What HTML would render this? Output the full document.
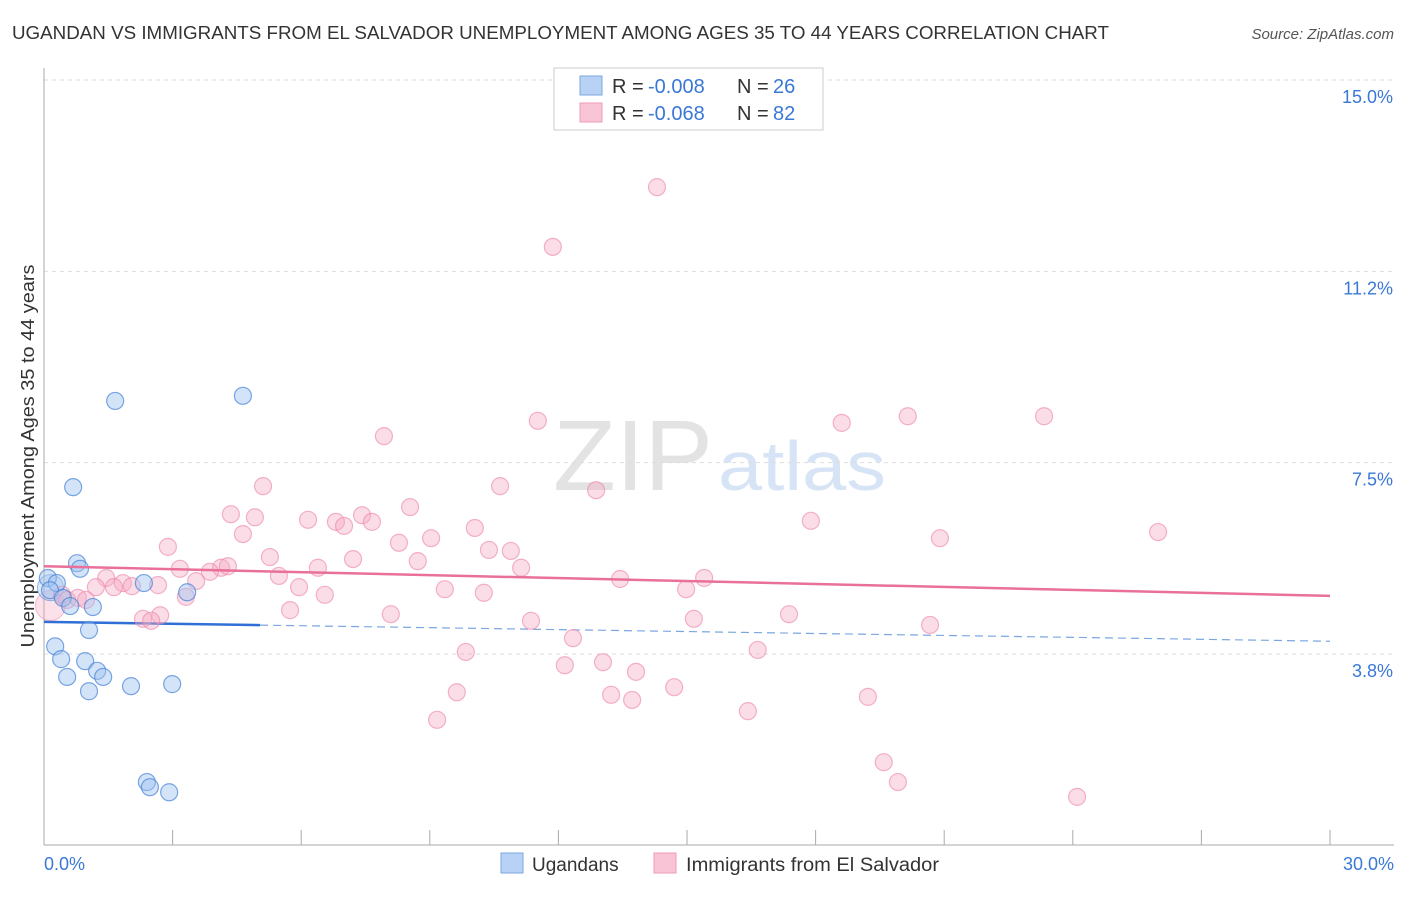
<!DOCTYPE html>
<html><head><meta charset="utf-8"><style>
body{margin:0;background:#fff;font-family:"Liberation Sans",sans-serif;}
svg text{font-family:"Liberation Sans",sans-serif;}
</style></head><body>
<svg id="chart" width="1406" height="892" xmlns="http://www.w3.org/2000/svg">
<text x="12" y="39" font-size="18" fill="#333" textLength="1097" lengthAdjust="spacingAndGlyphs">UGANDAN VS IMMIGRANTS FROM EL SALVADOR UNEMPLOYMENT AMONG AGES 35 TO 44 YEARS CORRELATION CHART</text>
<text x="1394" y="39" font-size="15" fill="#555" font-style="italic" text-anchor="end">Source: ZipAtlas.com</text>
<text x="633" y="490" font-size="100" fill="#e3e3e3" font-family="Liberation Serif" text-anchor="middle" textLength="160" lengthAdjust="spacingAndGlyphs">ZIP</text>
<text x="802" y="490" font-size="70" fill="#d6e4f5" text-anchor="middle" textLength="168" lengthAdjust="spacingAndGlyphs">atlas</text>
<text transform="translate(34,456) rotate(-90)" font-size="18" fill="#333" text-anchor="middle" textLength="383" lengthAdjust="spacingAndGlyphs">Unemployment Among Ages 35 to 44 years</text>
<g id="grid"></g><g id="axes"></g><g id="lines"></g><g id="pts"></g>
<g>
<rect x="554" y="68" width="269" height="62" fill="#fff" stroke="#ccc"/>
<rect x="580" y="76" width="22" height="19" fill="#b8d2f5" stroke="#7ba7e0"/>
<rect x="580" y="103" width="22" height="19" fill="#f9c5d6" stroke="#ef9ab8"/>
<text x="612" y="93" font-size="20" fill="#333">R =</text>
<text x="648" y="93" font-size="20" fill="#3a78d6">-0.008</text>
<text x="737" y="93" font-size="20" fill="#333">N =</text>
<text x="773" y="93" font-size="20" fill="#3a78d6">26</text>
<text x="612" y="120" font-size="20" fill="#333">R =</text>
<text x="648" y="120" font-size="20" fill="#3a78d6">-0.068</text>
<text x="737" y="120" font-size="20" fill="#333">N =</text>
<text x="773" y="120" font-size="20" fill="#3a78d6">82</text>
</g>
<g>
<rect x="501" y="853" width="22" height="20" fill="#b8d2f5" stroke="#7ba7e0"/>
<text x="532" y="871" font-size="19" fill="#333">Ugandans</text>
<rect x="654" y="853" width="22" height="20" fill="#f9c5d6" stroke="#ef9ab8"/>
<text x="686" y="871" font-size="19" fill="#333" textLength="253" lengthAdjust="spacingAndGlyphs">Immigrants from El Salvador</text>
</g>
</svg>
<script>
const blueX=[0.09,0.30,0.14,0.44,0.61,1.14,0.77,0.84,0.68,1.66,4.64,2.33,3.34,1.05,0.26,0.40,0.54,0.96,1.24,1.38,1.05,2.03,2.99,2.40,2.47,2.92];
const blueY=[5.24,5.14,5.00,4.85,4.69,4.67,5.53,5.42,7.02,8.71,8.81,5.14,4.96,4.22,3.90,3.65,3.30,3.61,3.42,3.30,3.02,3.12,3.16,1.24,1.14,1.04];
const pinkX=[14.30,11.87,7.93,11.52,18.61,20.15,23.33,5.11,10.64,12.88,4.36,4.92,8.54,6.16,6.81,7.00,7.42,7.65,10.05,17.89,25.99,4.64,9.03,20.90,2.89,8.28,10.38,10.89,5.27,7.21,8.72,3.17,4.13,4.29,6.39,11.13,1.45,1.84,2.05,2.66,3.55,3.87,5.48,13.44,15.40,1.21,1.63,5.95,14.98,9.35,6.55,10.26,0.42,0.54,0.79,0.98,3.31,5.74,8.09,2.31,2.71,2.50,11.36,15.16,17.38,20.67,12.34,16.65,9.84,12.15,13.04,13.81,14.70,9.63,13.23,13.72,19.22,16.42,9.17,19.59,19.92,24.10];
const pinkY=[12.90,11.73,8.02,8.32,8.28,8.41,8.41,7.04,7.04,6.96,6.49,6.43,6.63,6.38,6.34,6.26,6.47,6.34,6.22,6.36,6.14,6.10,6.02,6.02,5.85,5.93,5.79,5.77,5.65,5.61,5.57,5.42,5.44,5.47,5.44,5.44,5.24,5.14,5.08,5.10,5.18,5.36,5.28,5.22,5.24,5.06,5.06,5.06,5.02,5.02,4.91,4.95,4.91,4.81,4.85,4.81,4.87,4.61,4.53,4.44,4.51,4.40,4.40,4.44,4.53,4.32,4.06,3.83,3.79,3.53,3.59,3.40,3.10,3.00,2.95,2.85,2.91,2.63,2.46,1.63,1.24,0.95];
const blueTrend=[4.38,4.00];
const pinkTrend=[5.47,4.89];
const blueSolidEnd=5.04;
const yTicks=[3.75,7.5,11.25,15];
const yTickLabels=["3.8%","7.5%","11.2%","15.0%"];
const xTicks=[0,3,6,9,12,15,18,21,24,27,30];

const NS="http://www.w3.org/2000/svg";
const X=v=>44+v*(1330-44)/30;
const Y=v=>80+(15-v)*(654-80)/11.25;
function mk(tag,attrs,parent){const e=document.createElementNS(NS,tag);for(const k in attrs)e.setAttribute(k,attrs[k]);parent.appendChild(e);return e;}
const grid=document.getElementById('grid'),axes=document.getElementById('axes'),lines=document.getElementById('lines'),pts=document.getElementById('pts');
yTicks.forEach((t,i)=>{
  const g=mk('line',{x1:44,x2:1394,y1:Y(t),y2:Y(t),stroke:'#ddd','stroke-dasharray':'4,4'},grid);
  
  
  const tx=mk('text',{x:1393,y:Y(t)+23,'font-size':18,fill:'#3a78d6','text-anchor':'end'},axes);
  tx.textContent=yTickLabels[i];
  
  
});
const ya=mk('line',{x1:44,x2:44,y1:68,y2:845,stroke:'#aaa'},axes);


const xa=mk('line',{x1:44,x2:1394,y1:845,y2:845,stroke:'#aaa'},axes);


xTicks.forEach(t=>{
  const l=mk('line',{x1:X(t),x2:X(t),y1:830,y2:845,stroke:'#aaa'},axes);
  
  
});
const xl0=mk('text',{x:44,y:870,'font-size':18,fill:'#3a78d6'},axes);xl0.textContent=xTicks[0].toFixed(1)+'%';


const xl1=mk('text',{x:1394,y:870,'font-size':18,fill:'#3a78d6','text-anchor':'end'},axes);xl1.textContent=xTicks[xTicks.length-1].toFixed(1)+'%';



const bp=mk('circle',{cx:X(0.15),cy:Y(4.7),r:15,fill:'rgba(245,170,195,0.35)',stroke:'rgba(236,130,170,0.5)'},pts);


const bb=mk('circle',{cx:X(0.15),cy:Y(5.05),r:13,fill:'rgba(160,195,240,0.35)',stroke:'rgba(90,145,220,0.6)'},pts);



pinkX.forEach((x,i)=>{
  const c=mk('circle',{cx:X(x),cy:Y(pinkY[i]),r:8.5,fill:'rgba(245,170,195,0.4)',stroke:'rgba(236,130,170,0.6)','stroke-width':1.2},pts);
  
  
});
blueX.forEach((x,i)=>{
  const c=mk('circle',{cx:X(x),cy:Y(blueY[i]),r:8.5,fill:'rgba(160,195,240,0.45)',stroke:'rgba(70,130,215,0.7)','stroke-width':1.2},pts);
  
  
});
const bAt=x=>blueTrend[0]+(blueTrend[1]-blueTrend[0])*x/30;
const l1=mk('line',{x1:X(0),y1:Y(bAt(0)),x2:X(blueSolidEnd),y2:Y(bAt(blueSolidEnd)),stroke:'#2f6fd6','stroke-width':2.5},lines);


const l2=mk('line',{x1:X(blueSolidEnd),y1:Y(bAt(blueSolidEnd)),x2:X(30),y2:Y(bAt(30)),stroke:'#7ba7e0','stroke-width':1.2,'stroke-dasharray':'8,5'},lines);


const l3=mk('line',{x1:X(0),y1:Y(pinkTrend[0]),x2:X(30),y2:Y(pinkTrend[1]),stroke:'#e8709a','stroke-width':2.5},pts);


</script>
</body></html>
